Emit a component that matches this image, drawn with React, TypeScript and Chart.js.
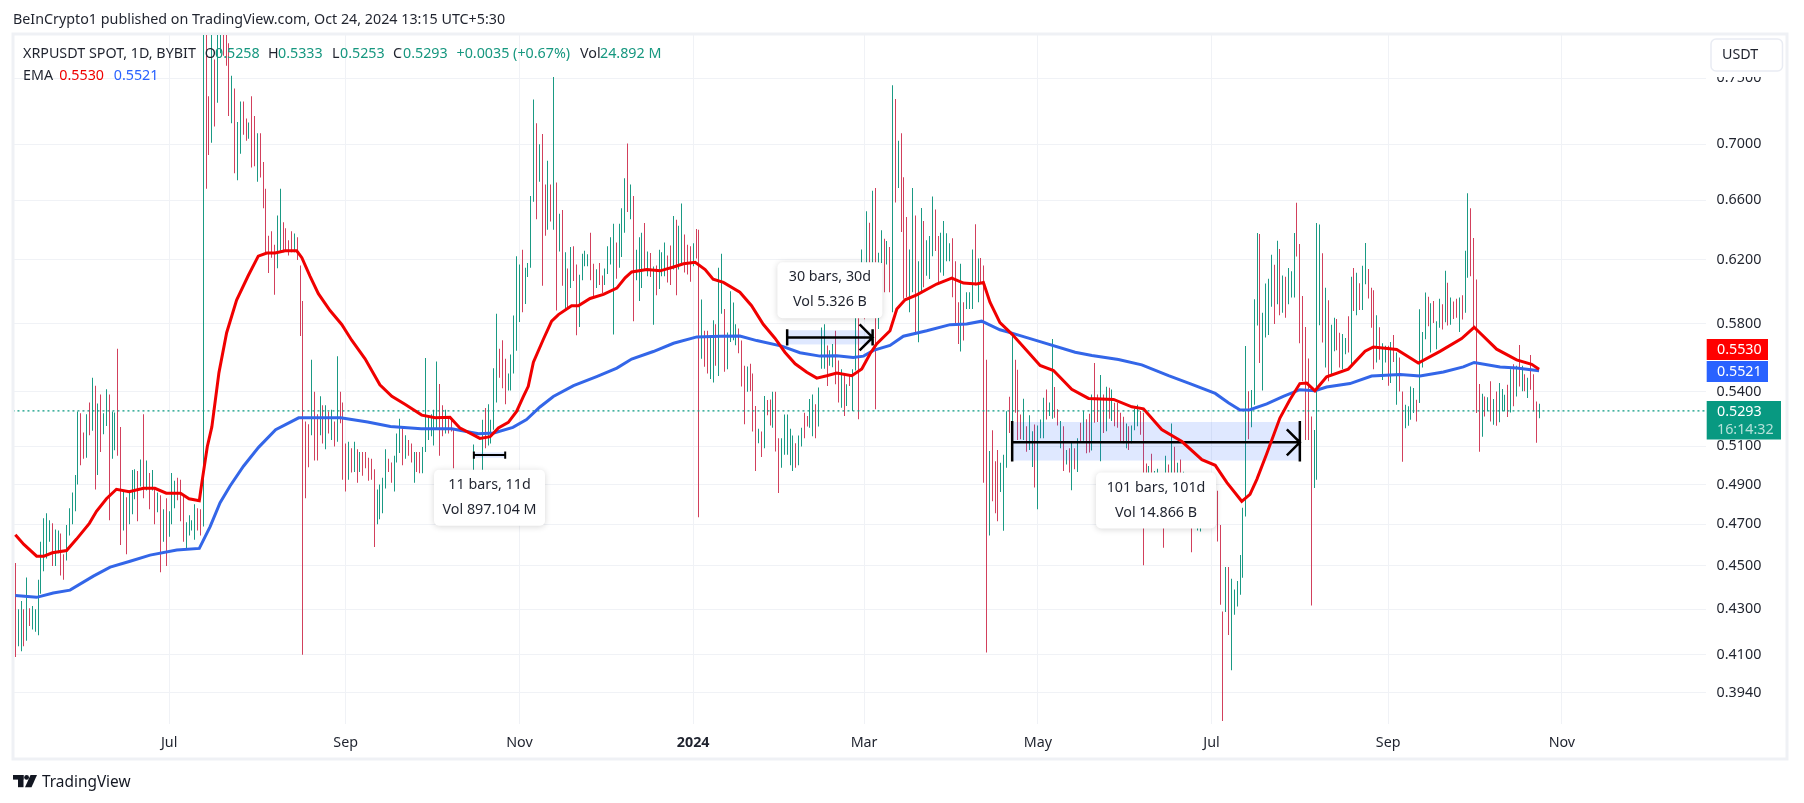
import React, { useEffect, useRef } from "react";
import { Chart, registerables } from "chart.js";

Chart.register(...registerables);

const FONT = '"Noto Sans", sans-serif';

// Day numbers count from the first bar (8 May 2023).
const barHighs = [
.4514,.430,.4337,.430,.4445,.4305,.4315,.430,.4435,.4615,
.473,.4755,.472,.4705,.4675,.467,.4655,.4555,.4697,.478,
.486,.495,.529,.528,.5175,.5275,.534,.548,.5435,.5335,
.5385,.528,.5415,.5385,.529,.5285,.565,.5205,.4865,.4835,
.486,.4975,.498,.497,.503,.5275,.5025,.496,.4975,.4885,
.486,.4845,.4775,.483,.4765,.496,.492,.4935,.4925,.4845,
.471,.4745,.472,.48,.478,.4775,.79,.79,.736,.79,
.765,.79,.785,.785,.785,.778,.752,.742,.7165,.732,
.732,.719,.716,.736,.721,.708,.708,.687,.668,.636,
.639,.63,.6495,.668,.645,.641,.633,.639,.6375,.635,
.6165,.594,.5235,.522,.5585,.54,.5275,.5375,.5325,.5325,
.529,.53,.5235,.5605,.54,.534,.5115,.5125,.509,.5125,
.5085,.507,.507,.507,.504,.5035,.498,.4875,.49,.4935,
.5085,.5035,.5015,.505,.517,.525,.521,.516,.5135,.5115,
.507,.507,.507,.5097,.5595,.527,.5275,.53,.5575,.5445,
.5325,.53,.526,.5245,.519,.497,.497,.497,.497,.497,
.497,.511,.497,.497,.5245,.531,.533,.5245,.5535,.586,
.565,.57,.559,.5505,.5615,.585,.6225,.617,.6267,.615,
.618,.663,.7335,.7155,.70,.7075,.671,.688,.671,.751,
.6725,.6507,.6533,.625,.6145,.6285,.629,.617,.6105,.624,
.626,.6238,.638,.6175,.614,.618,.61,.6145,.629,.635,
.644,.6315,.644,.6545,.6755,.7005,.671,.663,.6267,.635,
.638,.6445,.6255,.6245,.6158,.6165,.6267,.625,.6315,.623,
.6295,.6493,.6467,.6427,.6578,.6367,.63,.629,.631,.6405,
.64,.5948,.5757,.5757,.572,.582,.5796,.615,.624,.589,
.5747,.6,.593,.5796,.577,.5698,.555,.5546,.5561,.5505,
.532,.5195,.518,.5376,.5354,.5357,.54,.54,.5144,.5144,
.5274,.5274,.5195,.5158,.5117,.5158,.52,.5283,.5265,.536,
.5385,.533,.5424,.5776,.5796,.5669,.564,.5678,.5757,.558,
.553,.5502,.5443,.5492,.553,.5837,.5837,.6269,.618,.6525,
.6447,.6667,.6686,.6247,.6396,.634,.6325,.6285,.7445,.7339,
.7025,.708,.6762,.6485,.6269,.6686,.6496,.6192,.6547,.6458,
.6329,.6358,.6626,.6536,.6358,.638,.6458,.6376,.631,.6342,
.6192,.5932,.6175,.5932,.5994,.5994,.6269,.6436,.6209,.6213,
.6165,.5585,.5075,.5187,.5021,.5081,.5013,.5056,.5292,.5372,
.5727,.5584,.5526,.5274,.5361,.5209,.5269,.5182,.5219,.5213,
.5246,.5367,.5414,.534,.5708,.5427,.5302,.5237,.5209,.5081,
.509,.512,.509,.5144,.5228,.5293,.5247,.5278,.5385,.5566,
.5385,.5496,.5385,.5429,.5423,.5414,.5339,.5339,.5283,.5261,
.5224,.5209,.5213,.5306,.5328,.5293,.5283,.501,.4996,.5061,
.497,.4982,.495,.495,.505,.5004,.5224,.5098,.5013,.503,
.4966,.49,.49,.49,.49,.485,.485,.485,.485,.485,
.485,.485,.4868,.4697,.429,.4495,.4495,.444,.439,.4429,
.4552,.4782,.5665,.5404,.541,.595,.6378,.6371,.5867,.6049,
.6079,.6234,.6169,.6327,.6272,.61,.6092,.6148,.6127,.6378,
.6584,.6305,.5971,.578,.5592,.5263,.5189,.6445,.6434,.6244,
.6023,.5944,.5794,.5836,.5829,.5745,.5738,.5714,.5845,.6092,
.6148,.6117,.605,.6163,.6311,.6142,.6023,.6007,.5851,.5778,
.5682,.5667,.5667,.569,.5731,.5628,.5598,.5402,.5328,.5319,
.5431,.5422,.5356,.5888,.5749,.5992,.5965,.5925,.5939,.5815,
.5954,.5919,.6131,.6054,.5961,.5936,.5954,.5961,.5975,.626,
.6649,.6545,.6345,.6075,.5445,.5389,.5374,.537,.5461,.536,
.5402,.5451,.5416,.5383,.5441,.5529,.5558,.5549,.5671,.5549,
.55,.5481,.5612,.55,.5346,.5333
];

const barLows = [
.409,.4137,.4115,.4137,.416,.4225,.421,.420,.4185,.437,
.4475,.4535,.4615,.45,.45,.456,.4455,.4435,.4525,.4645,
.47,.4765,.49,.5,.5035,.504,.516,.5185,.4875,.495,
.507,.5165,.521,.472,.5035,.508,.505,.46,.467,.4555,
.47,.475,.4825,.4715,.489,.483,.487,.4775,.487,.47,
.476,.447,.4615,.45,.464,.47,.478,.482,.4715,.4615,
.4575,.4645,.467,.4625,.467,.4645,.469,.668,.692,.701,
.713,.731,.77,.768,.76,.721,.7155,.679,.674,.693,
.707,.7025,.704,.683,.684,.673,.676,.6545,.6249,.6116,
.6215,.5978,.6147,.626,.625,.626,.623,.625,.625,.62,
.5725,.41,.483,.499,.516,.5025,.5025,.516,.5115,.5085,
.517,.5135,.51,.5125,.5225,.4925,.4865,.4925,.4962,.4965,
.491,.4965,.4945,.4985,.492,.4925,.459,.47,.4725,.4755,
.488,.4965,.491,.4865,.5015,.5065,.5,.5035,.505,.5015,
.491,.4965,.4958,.4958,.507,.5135,.5155,.5105,.519,.505,
.5155,.517,.517,.518,.4985,.48,.48,.48,.48,.48,
.48,.49,.485,.485,.49,.509,.5105,.5115,.519,.534,
.548,.542,.533,.5408,.5408,.5505,.5637,.581,.587,.592,
.609,.615,.659,.647,.673,.6035,.636,.64,.6455,.64,
.588,.6255,.6035,.5878,.59,.602,.6065,.573,.578,.607,
.616,.616,.607,.597,.602,.604,.599,.604,.611,.617,
.5735,.608,.615,.622,.638,.652,.647,.5815,.607,.594,
.602,.6138,.6096,.609,.5794,.5975,.6015,.6096,.6096,.6055,
.604,.6138,.5975,.6138,.617,.612,.6106,.606,.616,.621,
.4735,.559,.5544,.5505,.5473,.5453,.555,.549,.586,.5515,
.553,.569,.57,.567,.5623,.543,.522,.54,.5404,.518,
.497,.5117,.5044,.509,.5269,.5213,.52,.5073,.4857,.4987,
.5056,.5056,.5,.497,.4987,.5,.51,.5144,.5208,.52,
.5154,.5144,.5208,.5532,.5532,.5433,.555,.5541,.5443,.534,
.5311,.5265,.532,.5433,.5293,.5522,.5247,.5837,.5827,.616,
.601,.616,.5302,.5767,.6181,.5994,.6171,.5994,.5869,.6585,
.6686,.6385,.5953,.5963,.5869,.5994,.5737,.5688,.6,.6025,
.6098,.6077,.6225,.6258,.6056,.6119,.6098,.6192,.6192,.5963,
.5796,.5678,.5633,.5698,.589,.589,.589,.6036,.5932,.6056,
.491,.411,.4645,.4815,.4755,.4716,.4862,.4669,.4987,.5172,
.5135,.5283,.5135,.5139,.5135,.5072,.5081,.4991,.4885,.4775,
.5144,.5144,.5246,.5265,.525,.5256,.5213,.509,.497,.5004,
.4962,.4871,.4979,.4965,.5125,.513,.5064,.5068,.5078,.5228,
.5232,.5021,.5172,.5182,.525,.5237,.5209,.52,.5126,.5117,
.509,.5081,.5117,.5187,.5209,.5163,.4503,.475,.48,.48,
.475,.48,.48,.4586,.48,.475,.49,.48,.48,.478,
.48,.475,.475,.4565,.475,.467,.4665,.47,.47,.47,
.47,.47,.4617,.432,.3825,.4288,.4186,.4034,.4275,.4312,
.4366,.4444,.4739,.5139,.5204,.5328,.5788,.5565,.5408,.5716,
.5732,.5904,.5798,.5919,.5851,.5867,.5836,.5919,.5961,.5961,
.6222,.5682,.5461,.5134,.5134,.4317,.4883,.4925,.579,.5686,
.5539,.546,.5498,.5634,.564,.5539,.5529,.5617,.5628,.5549,
.5877,.5851,.5883,.5883,.6044,.5955,.5775,.5529,.5568,.5584,
.5467,.5568,.5435,.5451,.5572,.5328,.5402,.5019,.5198,.5211,
.5245,.5282,.5235,.5337,.5539,.5706,.5784,.5628,.5804,.5647,
.5775,.5765,.5808,.5788,.5794,.5829,.5836,.5749,.5825,.5867,
.6086,.6096,.5775,.5282,.5071,.5152,.5263,.5291,.5235,.5217,
.5211,.5231,.5291,.5291,.5259,.5285,.5319,.5374,.5431,.5404,
.5404,.5365,.5412,.5291,.5119,.5253
];

const barDirections = (
"rggrgrgggg" + "gggrggrrgg" + "gggrrgrgrg" + "rggrggrrgr" + "gggrgrgrgr" +
"grgrgggrrr" + "ggggrrgrrg" + "rggrrrgrgg" + "rrgrrgrrrr" + "rrggrrrrgr" +
"rrrrgrrgrg" + "rgrgrrrgrg" + "rgrrrrrggg" + "grrgggrgrr" + "grrggggggr" +
"rgrrrgrgrg" + "rgrggrgggg" + "rrrgggggrg" + "gggrgrrgrg" + "rgrgrgrrgg" +
"ggrrgrrggg" + "grgggrgrgg" + "grgrgrgggr" + "rgrggrrrgr" + "rgrrggrggr" +
"ggggrrrgrr" + "rgrgrrgrrg" + "ggggrggrrg" + "grgggrggrr" + "grgrggrgrg" +
"rgrggrgrgr" + "grrrggrggr" + "gggrrggggr" + "rrgrgggrgr" + "rrgrrrgggr" +
"grrrgrggrg" + "ggrggrrgrg" + "rgrgrgrrgr" + "rgrgrgrrrr" + "grgggrrrgr" +
"gggrgrgrgr" + "grgrgggrgr" + "grrrrgrggg" + "gggrgggrgg" + "ggrgrgrggg" +
"rrrrrrgggr" + "grggrrggrg" + "rgrggrrrgr" + "ggrgrgrrgg" + "ggrgggrgrg" +
"grgrgrrgrg" + "grrrrgrgrg" + "rgggrgrgrg" + "rgrrrg"
).split("");

const fastDays = [0,3,7.5,10,13,18,21.5,26,28.5,32,35.5,40,45,49,53,58,61,64.6,65.5,67.4,69,71.5,74.2,77.7,81.8,85.3,88.3,91.2,94.7,98.8,100.6,103.5,106.4,110.5,114.6,118.1,122.8,128,132.2,136.8,142.7,147.4,152.6,156,160.8,163.1,166.7,169.6,173.1,176,178.4,180.1,181.9,185.4,188.3,190.7,195.3,197.7,201.8,206.5,211.2,214.1,216.4,221.7,226.4,231.1,234.6,238.7,242.2,245,248.6,254.4,258.5,262.6,266.7,270.2,273.8,277.9,281.4,284.9,288.4,293.7,297.2,300.1,302.4,307.1,309.5,312.4,316.5,323.5,328.8,332.9,337.5,339.9,342.2,345.7,349.9,355.1,359.8,364.5,370.9,376.8,385.6,392,396.1,402.5,409.6,416.6,421.3,425.4,430.6,433.5,435.9,439.4,444,447.5,451,453.4,456.3,460.4,468,473.9,476.8,485,492.6,500.2,507.8,512.2,520.1,527.1,532.4,535];
const fastValues = [.4649,.4602,.4546,.4546,.4562,.4573,.4628,.4705,.4765,.4828,.4876,.4864,.4881,.4881,.4856,.4856,.4828,.4818,.491,.5098,.5205,.551,.5745,.5945,.61,.6225,.6245,.6245,.626,.626,.6215,.6095,.5985,.588,.5795,.57,.559,.544,.5375,.533,.527,.5255,.5258,.52,.5162,.5143,.5152,.52,.523,.529,.5374,.5431,.557,.5706,.5815,.5855,.591,.591,.5955,.598,.602,.6085,.6123,.6138,.613,.6155,.6175,.6185,.6138,.6077,.6056,.5994,.591,.5796,.5712,.5629,.5561,.5512,.5478,.5492,.5508,.5492,.5531,.562,.5678,.5757,.589,.5947,.5978,.6046,.6084,.6052,.6046,.6056,.5932,.5806,.5737,.5639,.5551,.5522,.5414,.5363,.5357,.5316,.5305,.5191,.5126,.503,.5,.491,.4815,.485,.4927,.5062,.5254,.5356,.5447,.545,.5406,.5486,.553,.5635,.566,.5645,.5566,.5634,.571,.5778,.5647,.5584,.5558,.553];

const slowDays = [0,7.5,13.3,19.2,27.4,33.3,40.3,47.3,56.7,64.6,68.4,71.9,75.4,80.1,85.4,91.4,99.5,114.2,123.7,131.7,142.5,153.2,162.6,168,174.7,179.5,184.2,188.9,196,204.1,211.2,216.4,224,231.1,239.3,247.4,254.4,260.3,269.1,275.5,282.5,288.4,294.2,297.8,301.3,307.1,311.8,320,328.2,334,339.3,345.7,349.9,359.8,372.1,378,387.3,395.5,404.9,413.1,421.3,425.9,430,433.5,439.4,445.2,451,456.3,460.4,468.6,476.2,486.2,493.2,501.4,508.4,512.2,521.3,527.1,535];
const slowValues = [.4362,.4354,.4374,.4387,.4452,.4494,.4522,.4551,.4575,.4583,.4689,.4808,.4893,.4995,.5095,.519,.5255,.5255,.5232,.5208,.5195,.5195,.5168,.5172,.5203,.5245,.5315,.5374,.5435,.5487,.5536,.5589,.5633,.5682,.572,.5724,.5725,.5698,.5665,.5626,.5606,.5608,.5598,.5606,.564,.5669,.5724,.5757,.5794,.5798,.5815,.5763,.5743,.5692,.5629,.561,.5586,.5555,.5492,.5443,.5391,.5339,.5298,.53,.5332,.5374,.5412,.5406,.5427,.5447,.549,.5499,.549,.5514,.5543,.5569,.5543,.5536,.5521];

const priceTicks = [0.394, 0.41, 0.43, 0.45, 0.47, 0.49, 0.51, 0.54, 0.58, 0.62, 0.66, 0.7, 0.75];
const monthDays = [54, 116, 177, 238, 298, 359, 420, 482, 543];
const monthLabels = ["Jul", "Sep", "Nov", "2024", "Mar", "May", "Jul", "Sep", "Nov"];

const lastPrice = 0.5293;
const fastLast = 0.553;
const slowLast = 0.5521;

const toolStarts = [161, 271, 350];
const toolEnds = [172, 301, 451];
const toolMids = [0.5054, 0.5717, 0.5122];
const toolTops = [0.5068, 0.576, 0.5232];
const toolBottoms = [0.504, 0.5675, 0.5025];
const toolLines = ["11 bars, 11d", "30 bars, 30d", "101 bars, 101d"];
const toolVols = ["Vol 897.104 M", "Vol 5.326 B", "Vol 14.866 B"];

const COLOR_UP = "#1a9a84";
const COLOR_DOWN = "#d2405c";
const COLOR_FAST = "#f00000";
const COLOR_SLOW = "#3366e8";
const TEXT = "#1f232e";
const LINE = "#f0f2f6";

function text(ctx: any, s: string, x: number, y: number, color: string, size: number, align: string = "left", weight: string = "normal") {
  ctx.font = `${weight} ${size}px ${FONT}`;
  ctx.fillStyle = color;
  ctx.textAlign = align;
  ctx.textBaseline = "middle";
  ctx.fillText(s, x, y);
}

const framePlugin = {
  id: "frame",
  beforeDraw(chart: any) {
    const { ctx } = chart;
    ctx.save();
    ctx.fillStyle = "#ffffff";
    ctx.fillRect(0, 0, 1804, 803);
    ctx.strokeStyle = "#eff1f5";
    ctx.lineWidth = 3;
    ctx.strokeRect(13, 34, 1774, 725);
    ctx.restore();
  },
};

const toolsPlugin = {
  id: "tools",
  // Snap each one-pixel bar to the device grid so that it stays crisp.
  beforeDatasetDraw(chart: any, args: any) {
    if (args.index !== 0) return;
    args.meta.data.forEach((el: any) => {
      el.x = Math.round(el.x - 0.5) + 0.5;
    });
  },
  afterDatasetDraw(chart: any, args: any) {
    if (args.index !== 0) return;
    const { ctx } = chart;
    const xs = chart.scales.x;
    const ys = chart.scales.y;
    ctx.save();
    toolStarts.forEach((start, i) => {
      const x0 = xs.getPixelForValue(start);
      const x1 = xs.getPixelForValue(toolEnds[i]);
      const yMid = ys.getPixelForValue(toolMids[i]);
      const yTop = ys.getPixelForValue(toolTops[i]);
      const yBot = ys.getPixelForValue(toolBottoms[i]);
      ctx.fillStyle = "rgba(41,98,255,0.15)";
      ctx.fillRect(x0, yTop, x1 - x0, yBot - yTop);
      ctx.strokeStyle = "#000000";
      ctx.lineWidth = i === 0 ? 2 : 2.5;
      ctx.beginPath();
      ctx.moveTo(x0, yMid);
      ctx.lineTo(x1, yMid);
      ctx.moveTo(x0, yTop - 1);
      ctx.lineTo(x0, yBot + 1);
      ctx.moveTo(x1, yTop - 1);
      ctx.lineTo(x1, yBot + 1);
      if (i > 0) {
        ctx.moveTo(x1 - 13, yMid - 13);
        ctx.lineTo(x1, yMid);
        ctx.lineTo(x1 - 13, yMid + 13);
      }
      ctx.stroke();
    });
    const widths = [111, 105, 120];
    toolStarts.forEach((start, i) => {
      const cx = xs.getPixelForValue((start + toolEnds[i]) / 2);
      const yTop = ys.getPixelForValue(toolTops[i]);
      const yBot = ys.getPixelForValue(toolBottoms[i]);
      const boxTop = i === 1 ? yTop - 68 : yBot + 12;
      ctx.save();
      ctx.shadowColor = "rgba(0,0,0,0.16)";
      ctx.shadowBlur = 6;
      ctx.shadowOffsetY = 1;
      ctx.fillStyle = "#ffffff";
      ctx.beginPath();
      ctx.roundRect(cx - widths[i] / 2, boxTop, widths[i], 56, 5);
      ctx.fill();
      ctx.restore();
      text(ctx, toolLines[i], cx, boxTop + 15, TEXT, 14.3, "center");
      text(ctx, toolVols[i], cx, boxTop + 40, TEXT, 14.3, "center");
    });
    ctx.restore();
  },
};

const overlayPlugin = {
  id: "overlay",
  afterDraw(chart: any) {
    const { ctx } = chart;
    ctx.save();
    // Title and legend
    text(ctx, "BeInCrypto1 published on TradingView.com, Oct 24, 2024 13:15 UTC+5:30", 13, 20, TEXT, 14.3);
    text(ctx, "XRPUSDT SPOT, 1D, BYBIT", 23, 54, TEXT, 14.3);
    const G = "#16977f";
    text(ctx, "O", 204.7, 54, TEXT, 14.3);
    text(ctx, "0.5258", 215, 54, G, 14.3);
    text(ctx, "H", 268, 54, TEXT, 14.3);
    text(ctx, "0.5333", 278, 54, G, 14.3);
    text(ctx, "L", 332, 54, TEXT, 14.3);
    text(ctx, "0.5253", 340, 54, G, 14.3);
    text(ctx, "C", 393, 54, TEXT, 14.3);
    text(ctx, "0.5293", 403, 54, G, 14.3);
    text(ctx, "+0.0035 (+0.67%)", 456.5, 54, G, 14.3);
    text(ctx, "Vol", 580, 54, TEXT, 14.3);
    text(ctx, "24.892 M", 600, 54, G, 14.3);
    text(ctx, "EMA", 23, 76, TEXT, 14.3);
    text(ctx, fastLast.toFixed(4), 59.3, 76, COLOR_FAST, 14.3);
    text(ctx, slowLast.toFixed(4), 113.7, 76, "#2962ff", 14.3);

    // Unit box
    ctx.fillStyle = "#ffffff";
    ctx.fillRect(1708, 36, 76, 41);
    ctx.strokeStyle = "#e9ecf3";
    ctx.lineWidth = 1.5;
    ctx.beginPath();
    ctx.roundRect(1711, 39, 71.5, 32, 5);
    ctx.stroke();
    text(ctx, "USDT", 1722, 54.5, TEXT, 14.3);

    // Last-value badges
    ctx.fillStyle = "#ff0000";
    ctx.fillRect(1706.7, 339, 61.3, 21);
    text(ctx, fastLast.toFixed(4), 1717, 349.7, "#ffffff", 14.3);
    ctx.fillStyle = "#2962ff";
    ctx.fillRect(1706.7, 361, 61.3, 21);
    text(ctx, slowLast.toFixed(4), 1717, 371.7, "#ffffff", 14.3);
    ctx.fillStyle = "#089981";
    ctx.fillRect(1706.7, 401, 74.3, 38.5);
    text(ctx, lastPrice.toFixed(4), 1717, 411.7, "#ffffff", 14.3);
    text(ctx, "16:14:32", 1717, 430, "rgba(255,255,255,0.7)", 14.3);

    // Footer logo
    ctx.fillStyle = "#131722";
    ctx.fillRect(13, 775, 10.5, 4.6);
    ctx.fillRect(18, 775, 5.5, 12.2);
    ctx.beginPath();
    ctx.arc(26.6, 777.4, 2.4, 0, Math.PI * 2);
    ctx.fill();
    ctx.beginPath();
    ctx.moveTo(37, 775);
    ctx.lineTo(31.5, 787.2);
    ctx.lineTo(25, 787.2);
    ctx.lineTo(30.5, 775);
    ctx.closePath();
    ctx.fill();
    text(ctx, "TradingView", 42, 782.5, "#131722", 15.4);
    ctx.restore();
  },
};

export default function App() {
  const ref = useRef<HTMLCanvasElement | null>(null);
  useEffect(() => {
    if (!ref.current) return;
    const chart = new Chart(ref.current, {
      type: "bar",
      data: {
        datasets: [
          {
            type: "bar",
            label: "XRPUSDT",
            order: 5,
            data: barHighs.map((h, i) => ({ x: i, y: [barLows[i], h] })),
            backgroundColor: barDirections.map((d) => (d === "g" ? COLOR_UP : COLOR_DOWN)),
            barThickness: 1,
            grouped: false,
            borderWidth: 0,
            inflateAmount: 0,
          },
          {
            type: "line",
            label: "Last",
            order: 3,
            data: [
              { x: -1, y: lastPrice },
              { x: 600, y: lastPrice },
            ],
            borderColor: "#089981",
            borderWidth: 1.2,
            borderDash: [2, 3],
            pointRadius: 0,
          },
          {
            type: "line",
            label: "EMA slow",
            order: 2,
            data: slowDays.map((d, i) => ({ x: d, y: slowValues[i] })),
            borderColor: COLOR_SLOW,
            borderWidth: 3,
            pointRadius: 0,
            tension: 0,
          },
          {
            type: "line",
            label: "EMA fast",
            order: 1,
            data: fastDays.map((d, i) => ({ x: d, y: fastValues[i] })),
            borderColor: COLOR_FAST,
            borderWidth: 3,
            pointRadius: 0,
            tension: 0,
          },
        ],
      } as any,
      options: {
        responsive: false,
        animation: false,
        devicePixelRatio: 1,
        layout: { padding: { left: 14, top: 35, right: 0, bottom: 0 } },
        plugins: { legend: { display: false }, tooltip: { enabled: false } },
        scales: {
          x: {
            type: "linear",
            offset: false,
            min: -0.46,
            max: 593.6,
            grid: { color: LINE, drawTicks: false, offset: false, lineWidth: 1 },
            border: { display: false },
            afterFit(scale: any) {
              scale.height = 79;
            },
            afterBuildTicks(scale: any) {
              scale.ticks = monthDays.map((v) => ({ value: v }));
            },
            ticks: {
              autoSkip: false,
              maxRotation: 0,
              padding: 10,
              color: TEXT,
              font: (c: any) => ({
                family: FONT,
                size: 14.3,
                weight: c.tick && c.tick.value === 238 ? "bold" : "normal",
              }),
              callback: (v: any) => {
                const k = monthDays.indexOf(v);
                return k >= 0 ? monthLabels[k] : "";
              },
            },
          },
          y: {
            type: "logarithmic",
            position: "right",
            min: 0.3813,
            max: 0.7848,
            grid: { color: LINE, drawTicks: false, lineWidth: 1 },
            border: { display: false },
            afterFit(scale: any) {
              scale.width = 98;
            },
            afterBuildTicks(scale: any) {
              scale.ticks = priceTicks.map((v) => ({ value: v }));
            },
            ticks: {
              padding: 10.6,
              color: TEXT,
              font: { family: FONT, size: 14.3 },
              callback: (v: any) => Number(v).toFixed(4),
            },
          },
        },
      } as any,
      plugins: [framePlugin, toolsPlugin, overlayPlugin],
    });
    return () => chart.destroy();
  }, []);
  return (
    <div style={{ position: "absolute", left: 0, top: 0, width: 1804, height: 803, background: "#fff" }}>
      <canvas ref={ref} width={1804} height={803} style={{ display: "block" }} />
    </div>
  );
}
